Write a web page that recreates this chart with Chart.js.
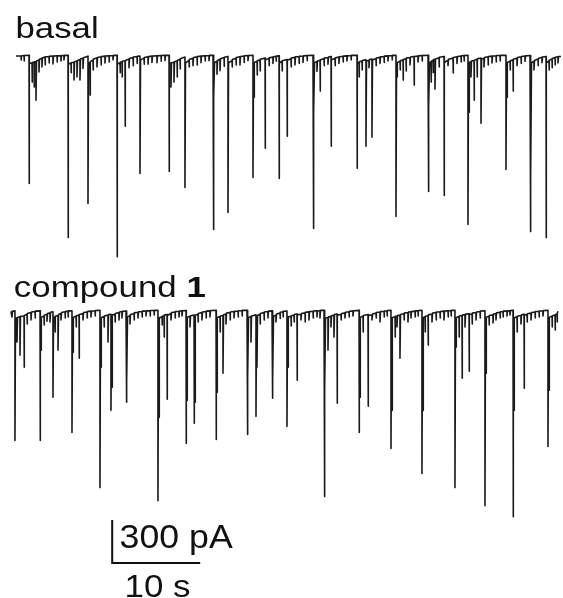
<!DOCTYPE html>
<html><head><meta charset="utf-8">
<script src="https://cdn.jsdelivr.net/npm/chart.js@4"></script>
<style>
html,body{margin:0;padding:0;background:#fff;width:563px;height:598px;overflow:hidden}
canvas{position:absolute;left:0;top:0}
</style></head>
<body>
<canvas id="basal" width="563" height="598"></canvas>
<canvas id="compound" width="563" height="598"></canvas>
<script>
// ---------------- DATA (time in s, current in pA) ----------------
// Each event: time, trace level just before it, peak current, and level just after it.
const basalTime = [0.57,0.91,1.48,1.82,2.05,2.27,2.61,2.95,3.30,3.75,4.20,4.66,5.11,5.45,
5.91,6.25,6.59,6.93,7.27,7.61,8.18,8.41,8.75,9.20,9.66,10.11,10.57,11.02,
11.48,11.82,12.05,12.39,12.84,13.30,13.75,14.09,14.55,15.00,15.45,16.02,16.48,16.93,
17.39,17.61,17.95,18.30,18.64,19.20,19.66,20.11,20.57,21.02,21.48,21.93,
22.39,22.50,22.84,23.18,23.64,24.09,24.55,25.00,25.45,25.91,26.36,
26.93,27.05,27.39,27.73,28.30,28.75,29.20,29.55,29.89,30.23,30.80,31.25,31.70,32.16,32.61,33.07,
33.75,33.86,34.20,34.55,35.00,35.45,35.80,36.25,36.70,37.16,37.61,38.07,
38.75,38.98,39.32,39.77,40.11,40.45,40.91,41.36,41.82,42.27,42.73,
43.18,43.30,43.64,43.98,44.32,44.77,45.23,45.68,46.14,
46.82,46.93,47.16,47.39,47.61,48.07,48.64,49.09,49.66,50.11,50.57,50.91,
51.36,51.48,51.70,52.05,52.39,52.84,53.18,53.64,54.09,54.55,55.00,
55.68,55.80,56.14,56.48,56.93,57.39,57.84,58.41,58.52,58.86,59.32,59.77,
60.23,60.57,60.91,61.25,61.59];
const basalBase = [7,10,12,-40,-36,-32,-20,-8,0,4,6,8,9,10,
12,-42,-36,-28,-18,-8,6,-38,-20,-6,2,6,8,10,
12,-40,-33,-26,-14,-3,4,7,-8,2,6,8,10,11,
12,-42,-36,-28,-16,0,-25,-8,2,6,9,10,
12,-45,-30,-16,-4,4,-25,-8,2,7,10,
12,-42,-30,-20,-8,-10,0,5,8,-30,-18,-12,-2,4,7,10,
12,-45,-32,-22,-12,-3,3,-10,0,5,8,10,
12,-38,-28,-20,-22,-14,-12,-2,4,8,10,
12,-42,-30,-20,-12,-3,3,7,10,
12,-42,-34,-24,-16,-6,3,-22,-8,2,7,10,
12,-42,-32,-24,-16,-8,-8,2,6,9,10,
12,-42,-30,-20,-8,2,7,10,-45,-30,-14,-2,
4,-28,-14,-4,2];
const basalPeak = [-21,-28,-882,-175,-210,-301,-105,-70,-56,-42,-49,-35,-28,-21,
-1260,-110,-160,-140,-160,-80,-1022,-266,-90,-70,-55,-42,-35,-20,
-1393,-110,-140,-483,-75,-60,-45,-812,-50,-50,-38,-40,-30,-25,
-798,-210,-175,-140,-84,-910,-70,-60,-55,-40,-28,-25,
-1204,-280,-120,-95,-65,-1085,-70,-55,-55,-38,-25,
-840,-280,-126,-98,-637,-60,-45,-30,-847,-98,-553,-70,-56,-45,-38,-25,
-1197,-385,-100,-238,-60,-50,-623,-60,-45,-35,-28,-20,
-777,-140,-90,-623,-75,-560,-60,-45,-38,-28,-20,
-1113,-140,-90,-161,-98,-56,-196,-35,-28,
-938,-350,-175,-110,-224,-70,-966,-60,-112,-45,-35,-28,
-1169,-385,-140,-301,-140,-462,-70,-56,-42,-35,-28,
-784,-280,-90,-238,-60,-45,-30,-1218,-840,-90,-60,-40,
-1260,-90,-75,-56,-42];
const basalAfter = [7,10,-45,-38,-34,-28,-15,-5,2,5,7,8,10,11,
-50,-40,-33,-24,-14,-5,-45,-32,-15,-3,4,7,9,11,
-50,-37,-30,-24,-10,0,5,-20,-4,4,7,9,10,11,
-50,-40,-33,-24,-12,-40,-18,-4,4,7,9,11,
-50,-40,-25,-12,-2,-40,-18,-4,4,8,10,
-48,-38,-26,-16,-20,-6,2,6,-42,-26,-22,-8,1,5,8,10,
-50,-40,-28,-20,-8,0,-20,-6,2,6,9,11,
-45,-34,-25,-28,-18,-20,-8,1,6,9,11,
-48,-38,-26,-17,-8,0,4,8,10,
-48,-38,-30,-20,-14,-2,-38,-16,-4,4,8,10,
-48,-38,-28,-22,-12,-15,-4,4,7,10,11,
-48,-38,-26,-16,-4,4,8,-50,-40,-25,-10,0,
-40,-22,-10,-2,3];
const basalEnd = [61.93, 4];

const compoundTime = [0.11,0.45,0.68,1.02,1.48,1.82,2.27,2.73,
3.30,3.41,3.75,4.09,4.43,4.77,5.00,5.34,5.68,6.14,6.48,
6.93,7.05,7.39,7.73,8.18,8.64,9.09,9.55,
10.11,10.23,10.57,11.02,11.36,11.48,11.82,12.27,12.61,
13.07,13.18,13.52,13.98,14.43,14.89,15.34,15.80,16.25,
16.70,16.82,17.16,17.39,17.73,18.18,18.64,19.09,19.43,
19.89,20.00,20.34,20.80,20.91,21.25,21.70,22.16,22.61,
23.30,23.41,23.75,24.09,24.43,24.89,25.34,25.80,26.25,
26.82,26.93,27.27,27.84,27.95,28.30,28.75,29.20,
29.66,29.77,30.11,30.57,30.91,31.36,31.48,31.82,32.16,32.50,32.95,33.41,33.86,34.32,34.77,35.11,
35.57,35.68,36.02,36.36,36.70,37.05,37.50,37.95,38.41,38.86,
39.55,39.66,40.00,40.57,41.02,41.48,41.93,42.39,42.73,
43.18,43.30,43.64,43.86,44.20,44.66,45.11,45.45,45.91,46.25,
46.70,46.82,47.05,47.39,47.84,48.30,48.75,49.20,49.66,50.00,
50.45,50.57,50.91,51.25,51.59,52.05,52.39,52.84,53.30,
53.86,53.98,54.32,54.77,55.11,55.57,55.91,56.36,56.70,
57.05,57.16,57.50,57.95,58.30,58.64,59.09,59.55,60.00,60.45,
61.02,61.14,61.48,61.82,62.05];
const compoundBase = [5,8,-40,-34,-28,-16,-4,4,
8,-42,-28,-16,-6,2,-34,-24,-10,2,6,
9,-40,-30,-22,-10,0,6,9,
11,-44,-32,-22,-16,-24,-16,-4,3,
7,-40,-26,-12,-2,4,7,9,10,
12,-45,-34,-26,-18,-10,0,5,8,
10,-42,-30,-22,-26,-16,-4,4,8,
11,-42,-32,-24,-14,-4,3,7,10,
12,-42,-32,-20,-28,-16,-4,4,
8,-36,-22,-8,2,7,-40,-30,-22,-14,-16,-6,1,5,8,10,
12,-46,-38,-30,-22,-14,-18,-6,2,7,
11,-42,-30,-18,-20,-8,0,5,8,
11,-42,-34,-28,-22,-12,-4,2,6,9,
11,-42,-34,-26,-14,-4,2,6,8,10,
12,-42,-32,-24,-18,-12,-14,-4,3,
9,-42,-30,-20,-10,-2,4,7,9,
11,-46,-34,-24,-16,-18,-8,0,5,8,
11,-42,-30,-22,-14];
const compoundPeak = [-35,-896,-210,-301,-385,-84,-56,-42,
-896,-266,-90,-65,-70,-595,-140,-266,-56,-42,-35,
-840,-280,-105,-322,-56,-42,-35,-28,
-1225,-385,-105,-210,-686,-525,-70,-56,-42,
-630,-490,-84,-56,-42,-35,-28,-28,-21,
-1316,-735,-90,-175,-609,-56,-42,-35,-28,
-917,-616,-105,-777,-630,-70,-56,-42,-35,
-889,-560,-140,-427,-84,-56,-42,-35,-28,
-854,-455,-210,-728,-385,-84,-56,-42,
-602,-476,-70,-45,-35,-798,-385,-98,-70,-476,-56,-70,-56,-42,-35,-42,
-1288,-546,-266,-105,-175,-637,-56,-42,-35,-28,
-840,-595,-140,-658,-56,-42,-70,-35,-28,
-952,-686,-175,-105,-322,-56,-70,-42,-35,-28,
-1127,-686,-140,-231,-70,-56,-42,-56,-35,-28,
-1225,-245,-175,-462,-105,-413,-84,-56,-42,
-1351,-427,-90,-77,-56,-42,-35,-28,-21,
-1428,-686,-140,-84,-532,-70,-56,-42,-35,-28,
-938,-546,-105,-126,-70];
const compoundAfter = [5,-45,-38,-30,-24,-10,0,6,
-48,-36,-22,-10,-2,-38,-30,-18,-4,4,8,
-45,-36,-26,-18,-4,3,7,10,
-50,-40,-28,-18,-26,-20,-10,0,5,
-45,-34,-18,-6,2,6,8,10,11,
-50,-40,-30,-22,-24,-4,3,7,9,
-45,-36,-26,-28,-22,-10,0,6,10,
-46,-38,-28,-20,-8,0,5,9,11,
-46,-38,-28,-30,-24,-10,0,6,
-40,-30,-14,-2,5,-44,-34,-26,-18,-20,-10,-2,3,7,9,11,
-50,-42,-34,-26,-18,-22,-12,-2,5,9,
-46,-36,-24,-24,-14,-4,3,7,10,
-46,-38,-30,-25,-18,-8,-1,4,8,10,
-46,-38,-30,-20,-8,0,4,7,9,11,
-46,-38,-28,-22,-14,-18,-8,0,6,
-46,-36,-24,-14,-6,2,6,8,10,
-50,-40,-30,-20,-22,-12,-4,3,7,10,
-46,-36,-26,-18,-8];
const compoundEnd = [62.16, 5];

const traceLabels = ['basal', 'compound ', '1'];
const scaleBarSeconds = 10;
const scaleBarPA = 300;
const scaleBarLabels = ['300 pA', '10 s'];

// ---------------- LAYOUT ----------------
const W = 563, H = 598;
const PX_PER_S = 88 / 10;     // 10 s = 88 px
const PX_PER_PA = 43 / 300;   // 300 pA = 43 px
const FONT = '"Liberation Sans", Arial, Helvetica, sans-serif';
const INK = '#111';

function tracePoints(time, base, peak, after, end) {
  const pts = [{x: 0, y: base[0]}];
  for (let i = 0; i < time.length; i++) {
    pts.push({x: time[i], y: base[i]}, {x: time[i], y: peak[i]}, {x: time[i] + 0.06, y: after[i]});
  }
  pts.push({x: end[0], y: end[1]});
  return pts;
}

function textPlugin(items) {
  return {
    id: 'texts',
    afterDraw(chart) {
      const ctx = chart.ctx;
      for (const item of items) {
        ctx.save();
        let x = 0, minL = Infinity, maxR = -Infinity;
        const widths = [];
        for (const p of item.parts) {
          ctx.font = `${p.weight} ${item.size}px ${FONT}`;
          const m = ctx.measureText(p.text);
          minL = Math.min(minL, x - m.actualBoundingBoxLeft);
          maxR = Math.max(maxR, x + m.actualBoundingBoxRight);
          widths.push(m.width);
          x += m.width;
        }
        const sx = (item.right - item.left) / (maxR - minL);
        ctx.translate(item.left - minL * sx, item.baseline);
        ctx.scale(sx, 1);
        ctx.fillStyle = INK;
        ctx.textBaseline = 'alphabetic';
        x = 0;
        item.parts.forEach((p, i) => {
          ctx.font = `${p.weight} ${item.size}px ${FONT}`;
          ctx.fillText(p.text, x, 0);
          x += widths[i];
        });
        ctx.restore();
      }
    }
  };
}

function makeChart(id, datasets, x0, y0, texts) {
  return new Chart(document.getElementById(id), {
    type: 'line',
    data: { datasets },
    options: {
      responsive: false, animation: false, events: [],
      layout: { padding: 0, autoPadding: false },
      plugins: { legend: {display: false}, tooltip: {enabled: false}, title: {display: false} },
      scales: {
        x: { type: 'linear', display: false, min: -x0 / PX_PER_S, max: (W - x0) / PX_PER_S },
        y: { type: 'linear', display: false, min: -(H - y0) / PX_PER_PA, max: y0 / PX_PER_PA }
      },
      elements: { point: { radius: 0 }, line: { tension: 0 } }
    },
    plugins: [textPlugin(texts)]
  });
}

const traceStyle = { borderColor: '#1a1a1a', borderWidth: 1.6, pointRadius: 0, fill: false, borderJoinStyle: 'round', clip: false };

// basal trace: starts at x=16 px, baseline y=57 px
makeChart('basal', [
  Object.assign({ data: tracePoints(basalTime, basalBase, basalPeak, basalAfter, basalEnd) }, traceStyle)
], 16, 57, [
  { parts: [{text: traceLabels[0], weight: 'normal'}], left: 16.7, right: 96.7, baseline: 38.3, size: 30 }
]);

// compound trace: starts at x=11 px, baseline y=312 px; scale bar corner at (112, 563) px
const C_X0 = 11, C_Y0 = 312;
const barT = (112.2 - C_X0) / PX_PER_S;
const barI = -(563 - C_Y0) / PX_PER_PA;
makeChart('compound', [
  Object.assign({ data: tracePoints(compoundTime, compoundBase, compoundPeak, compoundAfter, compoundEnd) }, traceStyle),
  { data: [{x: barT, y: barI + scaleBarPA}, {x: barT, y: barI}, {x: barT + scaleBarSeconds, y: barI}],
    borderColor: INK, borderWidth: 2, pointRadius: 0, fill: false, borderJoinStyle: 'miter', borderCapStyle: 'butt', clip: false }
], C_X0, C_Y0, [
  { parts: [{text: traceLabels[1], weight: 'normal'}, {text: traceLabels[2], weight: 'bold'}], left: 15, right: 205, baseline: 296.7, size: 30 },
  { parts: [{text: scaleBarLabels[0], weight: 'normal'}], left: 120.7, right: 232.7, baseline: 548.3, size: 33 },
  { parts: [{text: scaleBarLabels[1], weight: 'normal'}], left: 126.7, right: 190, baseline: 597, size: 31 }
]);
</script>
</body></html>
